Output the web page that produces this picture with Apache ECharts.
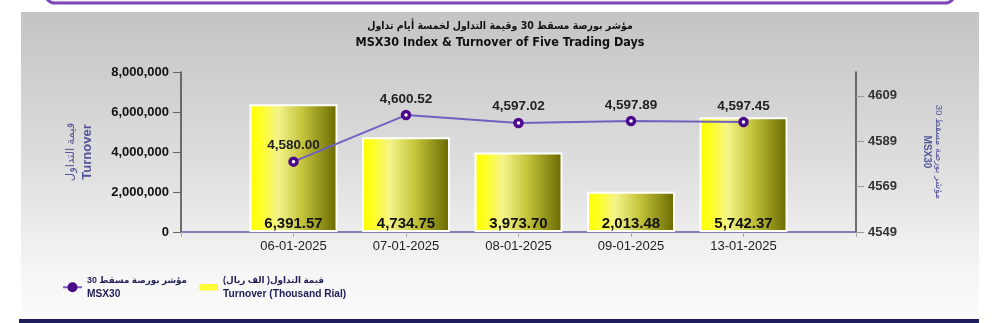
<!DOCTYPE html>
<html>
<head>
<meta charset="utf-8">
<script src="https://cdn.jsdelivr.net/npm/echarts@6/dist/echarts.min.js"></script>
<style>
html,body{margin:0;padding:0;background:#fff;}
#chart{width:1000px;height:323px;}
</style>
</head>
<body>
<div id="chart"></div>
<script>
// ---- data ----
const categories = ['06-01-2025', '07-01-2025', '08-01-2025', '09-01-2025', '13-01-2025'];
const turnover = [6391570, 4734750, 3973700, 2013480, 5742370];   // bar values (axis units)
const msx30 = [4580.00, 4600.52, 4597.02, 4597.89, 4597.45];       // index values
const leftTicks = [0, 2000000, 4000000, 6000000, 8000000];
const rightTicks = [4549, 4569, 4589, 4609];

const titleAr = 'مؤشر بورصة مسقط 30 وقيمة التداول لخمسة أيام تداول';
const titleEn = 'MSX30 Index & Turnover of Five Trading Days';

// padded category axis (empty slot at each end)
const cats = [''].concat(categories, ['']);
const barData = [null].concat(turnover, [null]);
const lineData = [null].concat(msx30, [null]);

const narrow = '"Liberation Sans Narrow", "Arial Narrow", "DejaVu Sans Condensed", "Liberation Sans", sans-serif';
const sans = '"Liberation Sans", Arial, "DejaVu Sans", sans-serif';
const nameColor = '#55559a';

const fmt2 = v => v.toLocaleString('en-US', {minimumFractionDigits: 2, maximumFractionDigits: 2});

const chart = echarts.init(document.getElementById('chart'), null, {renderer: 'canvas'});
chart.setOption({
  animation: false,
  textStyle: {fontFamily: sans},
  graphic: [
    {type: 'rect', z: -10, silent: true,
     shape: {x: 45, y: -26, width: 910, height: 29, r: 10},
     style: {fill: '#f3eef9', stroke: '#7d45b8', lineWidth: 3}},
    {type: 'rect', z: -10, silent: true,
     shape: {x: 21, y: 12, width: 958, height: 307},
     style: {fill: new echarts.graphic.LinearGradient(0, 0, 0, 1, [
       {offset: 0, color: '#c4c4c4'},
       {offset: 0.5, color: '#dedede'},
       {offset: 0.85, color: '#f6f6f6'},
       {offset: 1, color: '#fbfbfb'}])}},
    {type: 'rect', z: -10, silent: true,
     shape: {x: 19, y: 319, width: 960, height: 6},
     style: {fill: '#1d1d5c'}}
  ],
  title: [
    {text: titleAr, left: 'center', top: 21, padding: 0,
     textStyle: {fontSize: 10.5, fontWeight: 'bold', color: '#111', fontFamily: narrow}},
    {text: titleEn, left: 'center', top: 36.5, padding: 0,
     textStyle: {fontSize: 12.5, fontWeight: 'bold', color: '#111', fontFamily: narrow}}
  ],
  legend: {
    left: 57, top: 271, itemWidth: 19, itemHeight: 10, itemGap: 12,
    data: [
      {name: 'MSX30', itemStyle: {color: '#4a0a8a', borderColor: '#4a0a8a'}},
      {name: 'Turnover', icon: 'path://M0,0h18v6h-18z', itemStyle: {color: '#ffff33', borderWidth: 0}}
    ],
    formatter: name => name === 'MSX30'
      ? '{a|مؤشر بورصة مسقط 30}\n{b|MSX30}'
      : '{a|قيمة التداول( الف ريال)}\n{b|Turnover (Thousand Rial)}',
    textStyle: {
      rich: {
        a: {fontSize: 8.8, fontWeight: 'bold', color: '#1e1e55', lineHeight: 13.5, fontFamily: sans},
        b: {fontSize: 10.2, fontWeight: 'bold', color: '#1e1e55', lineHeight: 13.5, fontFamily: sans}
      }
    }
  },
  grid: {left: 181, right: 144, top: 72, bottom: 91, containLabel: false},
  xAxis: {
    type: 'category', data: cats, boundaryGap: false,
    axisLine: {lineStyle: {color: '#5a5aa0', width: 1.5}},
    axisTick: {show: true, length: 5, lineStyle: {color: '#aaaaaa'}},
    axisLabel: {fontSize: 13, color: '#222', margin: 8, fontFamily: sans},
    splitLine: {show: false}
  },
  yAxis: [
    {
      type: 'value', min: 0, max: 8000000, interval: 2000000, position: 'left',
      name: '{a|قيمة التداول}\n{b|Turnover}',
      nameLocation: 'middle', nameRotate: 90, nameGap: 86,
      nameTextStyle: {
        rich: {
          a: {fontSize: 11.5, color: nameColor, lineHeight: 16, fontFamily: sans},
          b: {fontSize: 13, fontWeight: 'bold', color: nameColor, lineHeight: 16, fontFamily: sans}
        }
      },
      axisLine: {show: true, lineStyle: {color: '#444', width: 1.5}},
      axisTick: {show: true, length: 8, lineStyle: {color: '#666'}},
      axisLabel: {fontSize: 13, fontWeight: 'bold', color: '#111', margin: 12,
                  formatter: v => v.toLocaleString('en-US')},
      splitLine: {show: false}
    },
    {
      type: 'value', min: 4549, max: 4619.5, position: 'right',
      name: '{a|مؤشر بورصة مسقط 30}\n{b|MSX30}',
      nameLocation: 'middle', nameRotate: -90, nameGap: 65,
      nameTextStyle: {
        rich: {
          a: {fontSize: 9.5, color: nameColor, lineHeight: 12, fontFamily: sans},
          b: {fontSize: 10, fontWeight: 'bold', color: nameColor, lineHeight: 12, fontFamily: sans}
        }
      },
      axisLine: {show: true, lineStyle: {color: '#444', width: 1.5}},
      axisTick: {show: true, length: 8, lineStyle: {color: '#999'}, customValues: rightTicks},
      axisLabel: {fontSize: 13, fontWeight: 'bold', color: '#333', margin: 12,
                  customValues: rightTicks, formatter: v => String(Math.round(v))},
      splitLine: {show: false}
    }
  ],
  series: [
    {
      name: 'Turnover', type: 'bar', yAxisIndex: 0, data: barData, barWidth: 88, z: 2,
      itemStyle: {
        color: new echarts.graphic.LinearGradient(0, 0, 1, 0, [
          {offset: 0, color: '#ffff00'},
          {offset: 0.12, color: '#ffff20'},
          {offset: 0.32, color: '#f4f48a'},
          {offset: 0.6, color: '#c4c43c'},
          {offset: 1, color: '#686800'}]),
        borderColor: '#ffffff', borderWidth: 2
      },
      label: {show: true, position: 'insideBottom', distance: 1,
              fontSize: 15, fontWeight: 'bold', color: '#111',
              formatter: p => fmt2(p.value / 1000)}
    },
    {
      name: 'MSX30', type: 'line', yAxisIndex: 1, data: lineData, z: 5,
      symbol: 'circle', symbolSize: 7,
      lineStyle: {color: '#7060c0', width: 2},
      itemStyle: {color: '#ffffff', borderColor: '#4a0a8a', borderWidth: 3.5},
      label: {show: true, position: 'top', distance: 4,
              fontSize: 13.5, fontWeight: 'bold', color: '#222',
              formatter: p => fmt2(p.value)}
    }
  ]
});
</script>
</body>
</html>
